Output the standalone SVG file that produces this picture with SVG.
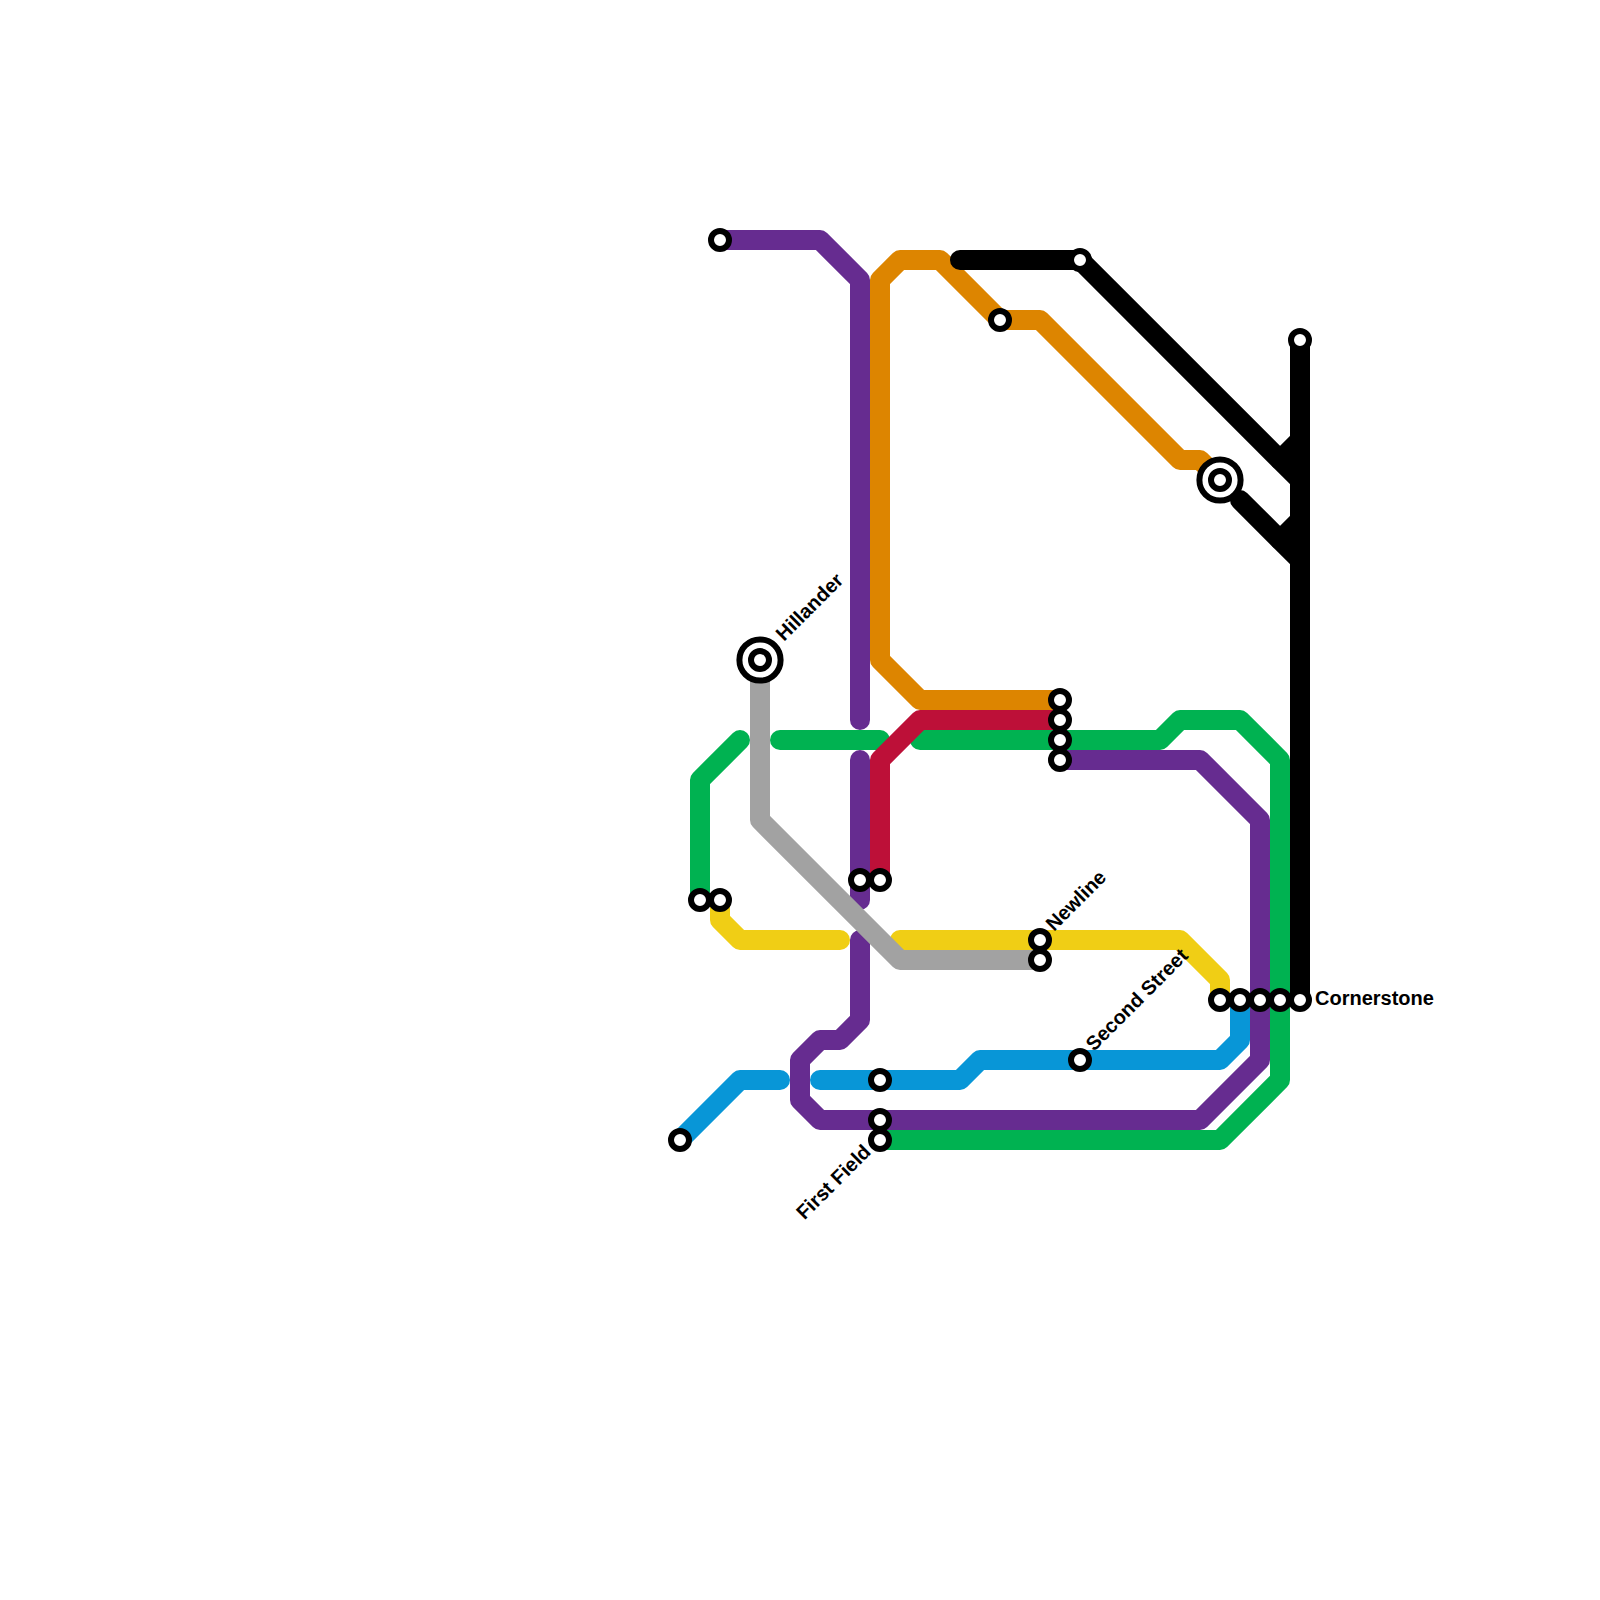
<svg xmlns="http://www.w3.org/2000/svg" width="1600" height="1600" viewBox="0 0 1600 1600">
<style>
.l{fill:none;stroke-width:20;stroke-linecap:round;stroke-linejoin:round}
.s{fill:#fff;stroke:#000;stroke-width:6}
.t{font-family:"Liberation Sans",Arial,sans-serif;font-weight:bold;font-size:20px;fill:#000}
</style>
<rect width="1600" height="1600" fill="#fff"/>
<g id="connectors">
<path class="l" stroke="#dd8500" d="M1060 700H920L880 660V280L900 260H940L1000 320H1040L1180 460H1200L1220 480"/>
<path class="l" stroke="#662c90" d="M720 240H820L860 280V720"/>
<path class="l" stroke="#662c90" d="M860 760V900"/>
<path class="l" stroke="#662c90" d="M860 940V1020L840 1040H820L800 1060V1100L820 1120H1200L1260 1060V820L1200 760H1060"/>
<path class="l" stroke="#0896d7" d="M680 1140L740 1080H780"/>
<path class="l" stroke="#0896d7" d="M820 1080H960L980 1060H1220L1240 1040V1000"/>
<path class="l" stroke="#00b251" d="M740 740L700 780V900"/>
<path class="l" stroke="#00b251" d="M780 740H880"/>
<path class="l" stroke="#00b251" d="M920 740H1160L1180 720H1240L1280 760V1080L1220 1140H880"/>
<path class="l" stroke="#bd1038" d="M1060 720H920L880 760V880"/>
<path class="l" stroke="#f0ce15" d="M720 900V920L740 940H840"/>
<path class="l" stroke="#f0ce15" d="M900 940H1180L1220 980V1000"/>
<path class="l" stroke="#a2a2a2" d="M760 660V820L900 960H1040"/>
<path class="l" stroke="#000" d="M960 260H1080L1300 480"/>
<path class="l" stroke="#000" d="M1280 460L1300 440"/>
<path class="l" stroke="#000" d="M1240 500L1300 560"/>
<path class="l" stroke="#000" d="M1280 540L1300 520"/>
<path class="l" stroke="#000" d="M1300 340V1000" style="stroke-linecap:butt"/>
</g>
<g id="station-hillander"><circle class="s" cx="760" cy="660" r="20.6"/><circle class="s" cx="760" cy="660" r="9"/><text class="t" transform="translate(784 642) rotate(-45)">Hillander</text></g>
<g id="station-interchange"><circle class="s" cx="1220" cy="480" r="20.6"/><circle class="s" cx="1220" cy="480" r="9"/></g>
<g id="station-1"><circle class="s" cx="720" cy="240" r="9"/></g>
<g id="station-2"><circle class="s" cx="1000" cy="320" r="9"/></g>
<g id="station-3"><circle class="s" cx="1080" cy="260" r="9"/></g>
<g id="station-4"><circle class="s" cx="1300" cy="340" r="9"/></g>
<g id="station-5"><circle class="s" cx="1060" cy="700" r="9"/></g>
<g id="station-6"><circle class="s" cx="1060" cy="720" r="9"/></g>
<g id="station-7"><circle class="s" cx="1060" cy="740" r="9"/></g>
<g id="station-8"><circle class="s" cx="1060" cy="760" r="9"/></g>
<g id="station-9"><circle class="s" cx="860" cy="880" r="9"/></g>
<g id="station-10"><circle class="s" cx="880" cy="880" r="9"/></g>
<g id="station-11"><circle class="s" cx="700" cy="900" r="9"/></g>
<g id="station-12"><circle class="s" cx="720" cy="900" r="9"/></g>
<g id="station-newline"><circle class="s" cx="1040" cy="940" r="9"/><text class="t" transform="translate(1054 932) rotate(-45)">Newline</text></g>
<g id="station-13"><circle class="s" cx="1040" cy="960" r="9"/></g>
<g id="station-second-street"><circle class="s" cx="1080" cy="1060" r="9"/><text class="t" transform="translate(1094 1052) rotate(-45)">Second Street</text></g>
<g id="station-14"><circle class="s" cx="1220" cy="1000" r="9"/></g>
<g id="station-15"><circle class="s" cx="1240" cy="1000" r="9"/></g>
<g id="station-16"><circle class="s" cx="1260" cy="1000" r="9"/></g>
<g id="station-17"><circle class="s" cx="1280" cy="1000" r="9"/></g>
<g id="station-cornerstone"><circle class="s" cx="1300" cy="1000" r="9"/><text class="t" x="1315" y="1005">Cornerstone</text></g>
<g id="station-18"><circle class="s" cx="880" cy="1080" r="9"/></g>
<g id="station-19"><circle class="s" cx="880" cy="1120" r="9"/></g>
<g id="station-first-field"><circle class="s" cx="880" cy="1140" r="9"/><text class="t" text-anchor="end" transform="translate(872 1153) rotate(-45)">First Field</text></g>
<g id="station-20"><circle class="s" cx="680" cy="1140" r="9"/></g>
</svg>
